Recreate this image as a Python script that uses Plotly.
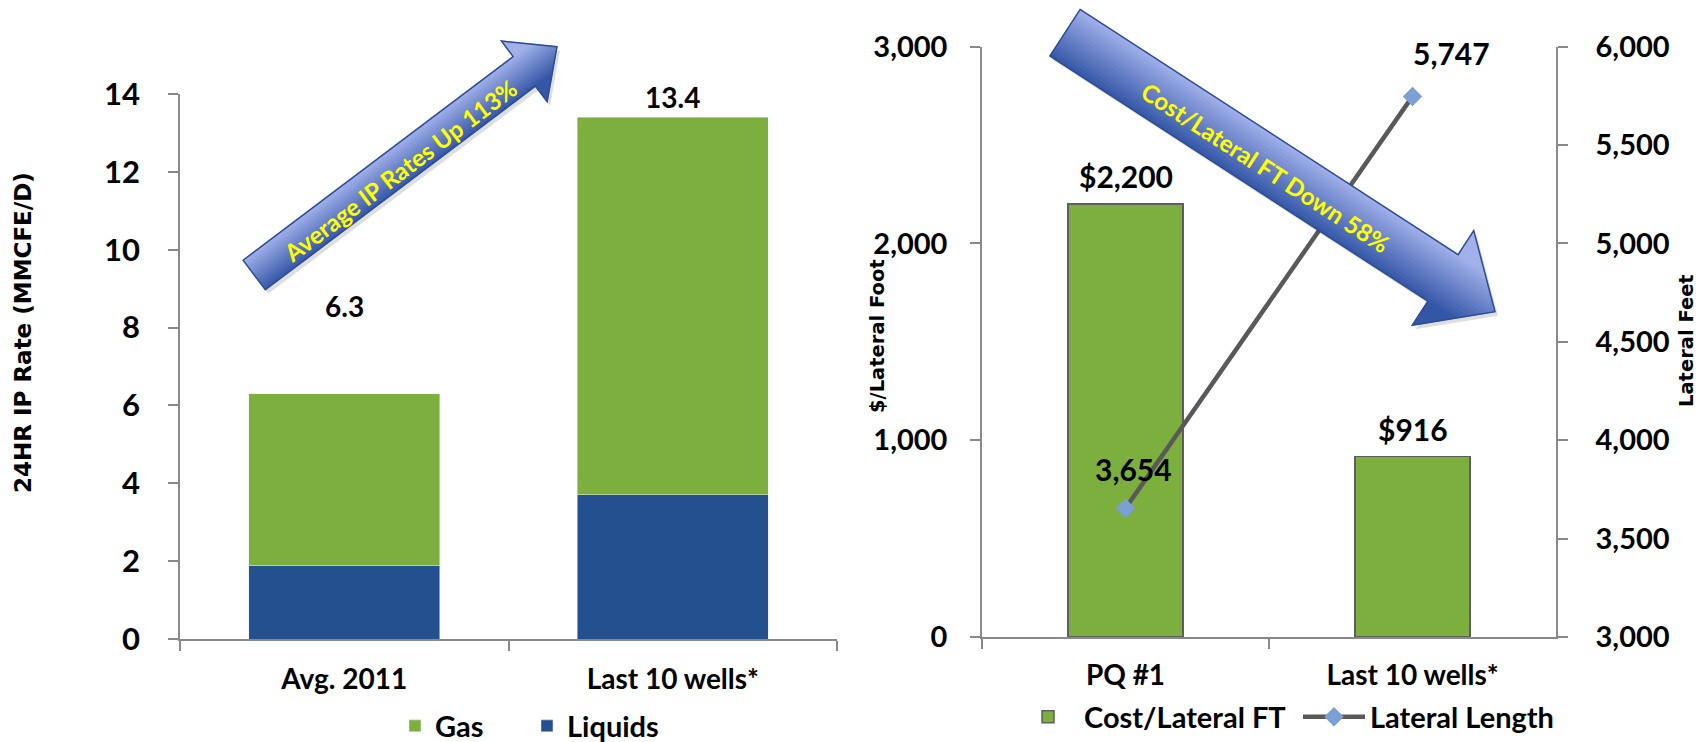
import math
import plotly.graph_objects as go

W, H = 1698, 742

# ---- left panel: 24HR IP rate by product ----
ip_categories = ["Avg. 2011", "Last 10 wells*"]
liquids = [1.9, 3.7]
gas = [4.4, 9.7]
ip_ticks = [0, 2, 4, 6, 8, 10, 12, 14]

# ---- right panel: drilling cost per lateral foot and lateral length ----
cost_categories = ["PQ #1", "Last 10 wells*"]
cost_per_ft = [2200, 916]
lateral_length = [3654, 5747]
cost_ticks = [0, 1000, 2000, 3000]
length_ticks = [3000, 3500, 4000, 4500, 5000, 5500, 6000]

GREEN = "#7DAF3F"
BLUE = "#25508F"
AXIS = "#898989"
LINE_GRAY = "#595959"
DIAMOND = "#7BA0D4"
CAL = "Lato, 'Open Sans', sans-serif"
VER = "'DejaVu Sans', Verdana, sans-serif"


def font(size, color="black", family=CAL):
    return dict(family=family, size=size, color=color, weight="bold")


def px_x(x):
    return x / W


def px_y(y):
    return 1 - y / H


fig = go.Figure()

fig.add_trace(go.Bar(x=ip_categories, y=liquids, name="Liquids", marker_color=BLUE,
                     width=0.58, xaxis="x", yaxis="y", legend="legend", legendrank=2))
fig.add_trace(go.Bar(x=ip_categories, y=gas, name="Gas", marker_color=GREEN,
                     width=0.58, xaxis="x", yaxis="y", legend="legend", legendrank=1))

fig.add_trace(go.Bar(x=cost_categories, y=cost_per_ft, name="Cost/Lateral FT",
                     marker=dict(color=GREEN, line=dict(color="#5E5E5E", width=1.5)),
                     width=0.4, xaxis="x2", yaxis="y2", legend="legend2", legendrank=1))
fig.add_trace(go.Scatter(x=cost_categories, y=lateral_length, name="Lateral Length",
                         mode="lines+markers", xaxis="x2", yaxis="y3",
                         line=dict(color=LINE_GRAY, width=4.5),
                         marker=dict(symbol="diamond", size=15, color=DIAMOND),
                         legend="legend2", legendrank=2))

axis_common = dict(showline=True, linecolor=AXIS, linewidth=1.5, ticks="outside",
                   tickcolor=AXIS, tickwidth=1.5, ticklen=10, showgrid=False,
                   zeroline=False, fixedrange=True)

fig.update_layout(
    width=W, height=H, margin=dict(l=0, r=0, t=0, b=0, autoexpand=False), autosize=False,
    paper_bgcolor="white", plot_bgcolor="rgba(0,0,0,0)", barmode="stack",
    xaxis=dict(domain=[px_x(180), px_x(837)], anchor="y", type="category",
               range=[-0.5, 1.5], tickson="boundaries", tickfont=font(28),
               ticklabelstandoff=15, **axis_common),
    yaxis=dict(domain=[px_y(639), px_y(94)], anchor="x", range=[0, 14],
               tickvals=ip_ticks, tickfont=font(31), ticklabelstandoff=22,
               **axis_common),
    xaxis2=dict(domain=[px_x(982), px_x(1556)], anchor="y2", type="category",
                range=[-0.5, 1.5], tickson="boundaries", tickfont=font(28),
                ticklabelstandoff=13, **axis_common),
    yaxis2=dict(domain=[px_y(637), px_y(46.6)], anchor="x2", range=[0, 3000],
                tickvals=cost_ticks, tickformat=",", tickfont=font(29),
                ticklabelstandoff=17, **axis_common),
    yaxis3=dict(overlaying="y2", anchor="x2", side="right", range=[3000, 6000],
                tickvals=length_ticks, tickformat=",", tickfont=font(29),
                ticklabelstandoff=22, **axis_common),
    legend=dict(orientation="h", x=px_x(395), y=px_y(726), xanchor="left",
                yanchor="middle", font=font(29), entrywidth=87,
                entrywidthmode="pixels", bgcolor="rgba(0,0,0,0)", traceorder="normal"),
    legend2=dict(orientation="h", x=px_x(1012), y=px_y(717), xanchor="left",
                 yanchor="middle", font=font(29), entrywidth=209,
                 entrywidthmode="pixels", itemwidth=62, bgcolor="rgba(0,0,0,0)",
                 traceorder="normal"),
)

annotations = []

# value labels above the stacked IP bars
ip_totals = [l + g for l, g in zip(liquids, gas)]
ip_label_shift = [88, 20]
for cat, tot, dy in zip(ip_categories, ip_totals, ip_label_shift):
    annotations.append(dict(x=cat, y=tot, xref="x", yref="y", text=f"{tot:.1f}",
                            showarrow=False, yshift=dy, font=font(28)))

# cost labels above the cost bars
for cat, val in zip(cost_categories, cost_per_ft):
    annotations.append(dict(x=cat, y=val, xref="x2", yref="y2", text=f"${val:,}",
                            showarrow=False, yshift=28, font=font(30)))

# lateral length labels near the diamonds
length_label_shift = [(8, 39), (39, 43)]
for cat, val, (dx, dy) in zip(cost_categories, lateral_length, length_label_shift):
    annotations.append(dict(x=cat, y=val, xref="x2", yref="y3", text=f"{val:,}",
                            showarrow=False, xshift=dx, yshift=dy, font=font(30)))

# axis titles
centered = dict(xref="paper", yref="paper", showarrow=False, xanchor="center",
                yanchor="middle")
annotations += [
    dict(x=px_x(23), y=px_y(333), text="24HR IP Rate (MMCFE/D)", textangle=-90,
         font=font(23, family=VER), **centered),
    dict(x=px_x(877), y=px_y(336), text="$/Lateral Foot", textangle=-90,
         font=font(19.5, family=VER), **centered),
    dict(x=px_x(1686), y=px_y(341), text="Lateral Feet", textangle=-90,
         font=font(19.5, family=VER), **centered),
]


def mix(c1, c2, t):
    a = [int(c1[i:i + 2], 16) for i in (1, 3, 5)]
    b = [int(c2[i:i + 2], 16) for i in (1, 3, 5)]
    return "#%02x%02x%02x" % tuple(round(a[k] + (b[k] - a[k]) * t) for k in range(3))


def block_arrow(tail, tip, shaft_w, head_len, head_w, light="#A2B1EA", dark="#3456A6",
                edge="#2D4D96"):
    """Block arrow with a gradient running across its width."""
    dx, dy = tip[0] - tail[0], tip[1] - tail[1]
    length = math.hypot(dx, dy)
    ux, uy = dx / length, dy / length
    nx, ny = uy, -ux  # side facing up = lighter side
    shaft_len = length - head_len

    def pt(u, v):
        return tail[0] + u * ux + v * nx, tail[1] + u * uy + v * ny

    def path(points):
        return "M " + " L ".join(f"{px_x(x):.5f},{px_y(y):.5f}" for x, y in points) + " Z"

    outline = [pt(0, shaft_w / 2), pt(shaft_len, shaft_w / 2), pt(shaft_len, head_w / 2),
               pt(length, 0), pt(shaft_len, -head_w / 2), pt(shaft_len, -shaft_w / 2),
               pt(0, -shaft_w / 2)]
    shapes = []
    shadow = [(x + 3, y + 4) for x, y in outline]
    shapes.append(dict(type="path", xref="paper", yref="paper", path=path(shadow),
                       fillcolor="rgba(0,0,0,0.13)", line=dict(width=0), layer="above"))
    shapes.append(dict(type="path", xref="paper", yref="paper", path=path(outline),
                       fillcolor=mix(light, dark, 0.5), line=dict(width=0), layer="above"))

    def u_max(v):
        return shaft_len + head_len * (1 - abs(v) / (head_w / 2))

    def color_at(v):
        t = (shaft_w / 2 - v) / shaft_w
        return mix(light, dark, min(1.0, max(0.0, t)))

    bands = []
    n_shaft = 16
    for i in range(n_shaft):
        v0 = -shaft_w / 2 + shaft_w * i / n_shaft
        v1 = -shaft_w / 2 + shaft_w * (i + 1) / n_shaft
        bands.append((v0, v1, 0.0))
    n_head = 5
    for i in range(n_head):
        a = shaft_w / 2 + (head_w / 2 - shaft_w / 2) * i / n_head
        b = shaft_w / 2 + (head_w / 2 - shaft_w / 2) * (i + 1) / n_head
        bands.append((a, b, shaft_len))
        bands.append((-b, -a, shaft_len))
    for v0, v1, umin in bands:
        poly = [pt(umin, v0), pt(u_max(v0), v0), pt(u_max(v1), v1), pt(umin, v1)]
        shapes.append(dict(type="path", xref="paper", yref="paper", path=path(poly),
                           fillcolor=color_at((v0 + v1) / 2),
                           line=dict(width=0.6, color=color_at((v0 + v1) / 2)),
                           layer="above"))
    shapes.append(dict(type="path", xref="paper", yref="paper", path=path(outline),
                       fillcolor="rgba(0,0,0,0)", line=dict(width=1.5, color=edge),
                       layer="above"))
    angle = -math.degrees(math.atan2(-dy, dx))
    return shapes, angle


shapes_up, ang_up = block_arrow((254.2, 275.0), (557.0, 46.7), 37, 41, 76)
shapes_down, ang_down = block_arrow((1065.0, 32.7), (1495.0, 311.7), 55.5, 62, 113)

annotations += [
    dict(x=px_x(400), y=px_y(171), text="Average IP Rates Up 113%", textangle=ang_up,
         font=font(24, "#FFFF00"), **centered),
    dict(x=px_x(1266), y=px_y(167), text="Cost/Lateral FT Down 58%", textangle=ang_down,
         font=font(24, "#FFFF00"), **centered),
]

fig.update_layout(shapes=shapes_up + shapes_down, annotations=annotations)

fig.write_html("out.html")
